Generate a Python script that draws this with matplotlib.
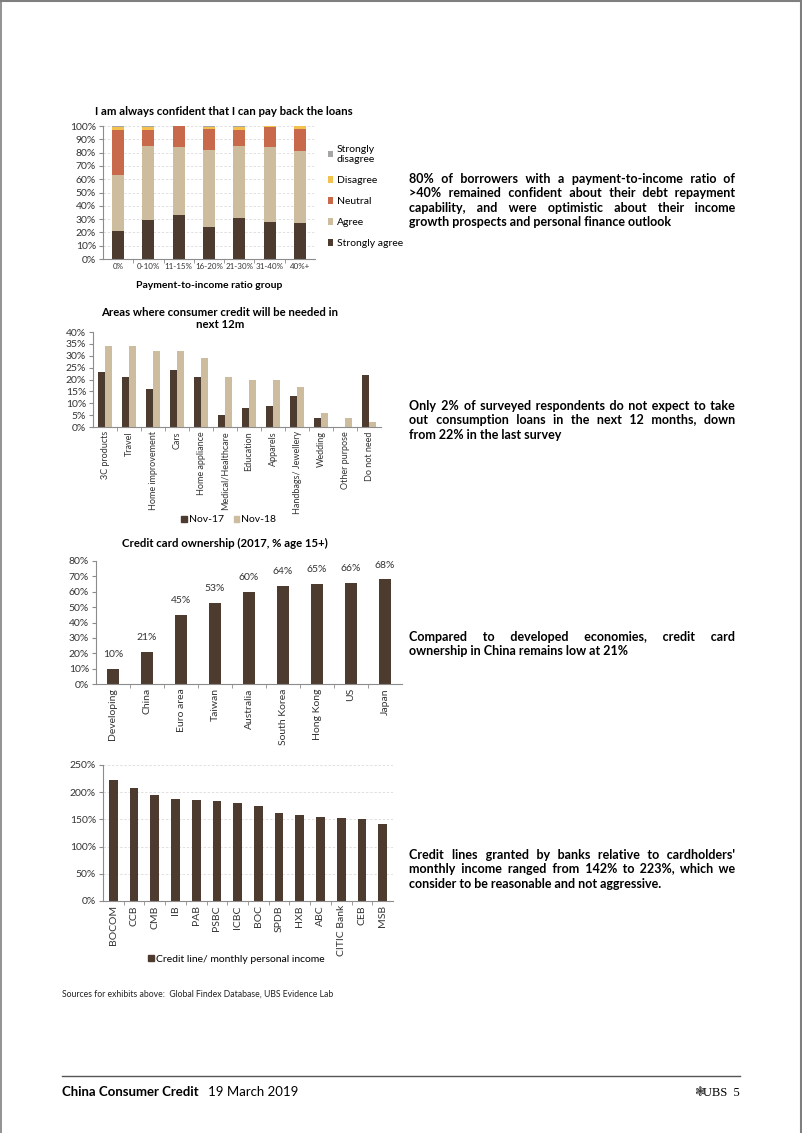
import matplotlib
matplotlib.use('Agg')
import matplotlib.pyplot as plt
from matplotlib.lines import Line2D
from matplotlib.patches import Patch
import numpy as np

plt.rcParams['font.family'] = ['Lato', 'DejaVu Sans']

W, H = 802, 1133

# Chart 1 - confidence by payment-to-income group
groups = ['0%', '0-10%', '11-15%', '16-20%', '21-30%', '31-40%', '40%+']
strongly_agree = [21, 29, 33, 24, 31, 28, 27]
agree = [42, 56, 51, 58, 54, 56, 54]
neutral = [34, 12, 16, 16, 12, 15, 17]
disagree = [2, 2, 0, 1, 2, 1, 2]
strongly_disagree = [1, 1, 0, 1, 1, 0, 0]

# Chart 2 - areas where credit will be needed
areas = ['3C products', 'Travel', 'Home improvement', 'Cars', 'Home appliance',
         'Medical/Healthcare', 'Education', 'Apparels', 'Handbags/ Jewellery',
         'Wedding', 'Other purpose', 'Do not need']
nov17 = [23, 21, 16, 24, 21, 5, 8, 9, 13, 4, 0, 22]
nov18 = [34, 34, 32, 32, 29, 21, 20, 20, 17, 6, 4, 2]

# Chart 3 - credit card ownership
countries = ['Developing', 'China', 'Euro area', 'Taiwan', 'Australia',
             'South Korea', 'Hong Kong', 'US', 'Japan']
ownership = [10, 21, 45, 53, 60, 64, 65, 66, 68]

# Chart 4 - credit line / monthly income
banks = ['BOCOM', 'CCB', 'CMB', 'IB', 'PAB', 'PSBC', 'ICBC', 'BOC', 'SPDB',
         'HXB', 'ABC', 'CITIC Bank', 'CEB', 'MSB']
credit_line = [223, 208, 195, 188, 186, 184, 181, 175, 161, 158, 155, 153, 150, 142]

DARK = '#4E3B2F'
TAN = '#CDBD9E'
NEUTRAL = '#C8694B'
YELLOW = '#F2C14E'
GREY = '#A6A6A6'
TXT = '#333333'
SPINE = '#8c8c8c'

fig = plt.figure(figsize=(W / 100, H / 100), dpi=100)
renderer = fig.canvas.get_renderer()


def box(l, r, b, t):
    return [l / W, 1 - b / H, (r - l) / W, (b - t) / H]


def style(ax, n, grid=False):
    for s in ['top', 'right']:
        ax.spines[s].set_visible(False)
    for s in ['left', 'bottom']:
        ax.spines[s].set_color(SPINE)
        ax.spines[s].set_linewidth(0.8)
    ax.set_xlim(-0.5, n - 0.5)
    ax.set_xticks(np.arange(n - 1) + 0.5, minor=True)
    ax.tick_params(axis='x', which='minor', length=3, color=SPINE)
    ax.tick_params(axis='x', which='major', length=0, colors=TXT, pad=3)
    ax.tick_params(axis='y', length=3, color=SPINE, colors=TXT, labelsize=7.5, pad=2)
    if grid:
        ax.yaxis.grid(True, color='#dcdcdc', linestyle=(0, (3, 2)), linewidth=0.6)
        ax.set_axisbelow(True)


# ---- Chart 1
ax1 = fig.add_axes(box(103, 315, 259, 126))
x = np.arange(len(groups))
bottom = np.zeros(len(groups))
series = [(strongly_agree, DARK, 'Strongly agree'), (agree, TAN, 'Agree'),
          (neutral, NEUTRAL, 'Neutral'), (disagree, YELLOW, 'Disagree'),
          (strongly_disagree, GREY, 'Strongly\ndisagree')]
for vals, c, lab in series:
    ax1.bar(x, vals, 0.4, bottom=bottom, color=c, label=lab)
    bottom += np.array(vals)
ax1.set_ylim(0, 100)
ax1.set_yticks(np.arange(0, 101, 10))
ax1.set_yticklabels(['%d%%' % v for v in range(0, 101, 10)])
style(ax1, len(groups), grid=True)
ax1.set_xticks(x)
ax1.set_xticklabels(groups, fontsize=5.8)
ax1.set_xlabel('Payment-to-income ratio group', fontsize=7.5, fontweight='bold', labelpad=8)
ax1.set_title('I am always confident that I can pay back the loans', fontsize=8.2,
              fontweight='bold', pad=8, x=0.57)
h, l = ax1.get_legend_handles_labels()
ax1.legend(h[::-1], l[::-1], loc='center left', bbox_to_anchor=(1.04, 0.47), frameon=False,
           fontsize=7.5, handlelength=0.55, handleheight=0.55, handletextpad=0.3,
           labelspacing=1.15, borderaxespad=0)

# ---- Chart 2
ax2 = fig.add_axes(box(93, 381, 427, 332))
x = np.arange(len(areas))
ax2.bar(x - 0.14, nov17, 0.28, color=DARK, label='Nov-17')
ax2.bar(x + 0.14, nov18, 0.28, color=TAN, label='Nov-18')
ax2.set_ylim(0, 40)
ax2.set_yticks(np.arange(0, 41, 5))
ax2.set_yticklabels(['%d%%' % v for v in range(0, 41, 5)])
style(ax2, len(areas))
ax2.set_xticks(x)
ax2.set_xticklabels(areas, rotation=90, fontsize=6.5)
ax2.set_title('Areas where consumer credit will be needed in\nnext 12m', fontsize=8.2,
              fontweight='bold', pad=3, x=0.44, linespacing=1.05)
fig.legend(handles=[Patch(color=DARK, label='Nov-17'), Patch(color=TAN, label='Nov-18')],
           loc='center', bbox_to_anchor=(229 / W, 1 - 520 / H), ncol=2, frameon=False,
           fontsize=7.5, handlelength=0.55, handleheight=0.55, handletextpad=0.2,
           columnspacing=0.9)

# ---- Chart 3
ax3 = fig.add_axes(box(96, 402, 684, 561))
x = np.arange(len(countries))
ax3.bar(x, ownership, 0.38, color=DARK)
ax3.set_ylim(0, 80)
ax3.set_yticks(np.arange(0, 81, 10))
ax3.set_yticklabels(['%d%%' % v for v in range(0, 81, 10)])
style(ax3, len(countries))
ax3.set_xticks(x)
ax3.set_xticklabels(countries, rotation=90, fontsize=7.5)
for xi, v in zip(x, ownership):
    ax3.annotate('%d%%' % v, (xi, v), xytext=(0, 7), textcoords='offset points',
                 ha='center', va='bottom', fontsize=7.5, color=TXT)
ax3.set_title('Credit card ownership (2017, % age 15+)', fontsize=8.2, fontweight='bold',
              pad=10, x=0.42)

# ---- Chart 4
ax4 = fig.add_axes(box(103, 393, 901, 765))
x = np.arange(len(banks))
ax4.bar(x, credit_line, 0.42, color=DARK)
ax4.set_ylim(0, 250)
ax4.set_yticks(np.arange(0, 251, 50))
ax4.set_yticklabels(['%d%%' % v for v in range(0, 251, 50)])
style(ax4, len(banks), grid=True)
ax4.set_xticks(x)
ax4.set_xticklabels(banks, rotation=90, fontsize=7.5)
fig.legend(handles=[Patch(color=DARK, label='Credit line/ monthly personal income')],
           loc='center', bbox_to_anchor=(236 / W, 1 - 959 / H), frameon=False,
           fontsize=7.5, handlelength=0.55, handleheight=0.55, handletextpad=0.2)


# ---- Commentary: one text per line, justified by padding gaps with hair spaces
HAIR = '\u200a'


def width_of(t, s):
    t.set_text(s)
    return t.get_window_extent(renderer).width


def para(lines, y0, x0=409, x1=735, lh=14.3, size=9):
    for i, line in enumerate(lines):
        y = 1 - (y0 + 4 + i * lh) / H
        t = fig.text(x0 / W, y, line, fontsize=size, fontweight='bold', va='baseline')
        if i == len(lines) - 1:
            continue
        words = line.split()
        ngap = len(words) - 1
        w0 = width_of(t, line)
        hair = (width_of(t, 'a' + HAIR * 10 + 'a') - width_of(t, 'aa')) / 10
        k = max(0, int(round((x1 - x0 - w0) / hair)))
        best = line
        for _ in range(4):
            gaps = [k // ngap + (1 if j < k % ngap else 0) for j in range(ngap)]
            s = words[0]
            for j, wd in enumerate(words[1:]):
                s += ' ' + HAIR * gaps[j] + wd
            wnow = width_of(t, s)
            best = s
            diff = int(round((x1 - x0 - wnow) / hair))
            if diff == 0:
                break
            k = max(0, k + diff)
        t.set_text(best)


para(['80% of borrowers with a payment-to-income ratio of',
      '>40% remained confident about their debt repayment',
      'capability, and were optimistic about their income',
      'growth prospects and personal finance outlook'], 179)
para(['Only 2% of surveyed respondents do not expect to take',
      'out consumption loans in the next 12 months, down',
      'from 22% in the last survey'], 406)
para(['Compared to developed economies, credit card',
      'ownership in China remains low at 21%'], 637)
para(["Credit lines granted by banks relative to cardholders'",
      'monthly income ranged from 142% to 223%, which we',
      'consider to be reasonable and not aggressive.'], 855)

# ---- Footer
fig.text(62 / W, 1 - 994 / H, 'Sources for exhibits above:  Global Findex Database, UBS Evidence Lab',
         fontsize=6.2, va='center', color='#222222')
fig.add_artist(Line2D([62 / W, 740 / W], [1 - 1076 / H] * 2, color='#555555', lw=1.0))
t = fig.text(62 / W, 1 - 1096 / H, 'China Consumer Credit', fontsize=9.5, fontweight='bold',
             va='baseline')
tw = t.get_window_extent(renderer).width
fig.text((62 + tw + 9) / W, 1 - 1096 / H, '19 March 2019', fontsize=9.5, va='baseline')
fig.text(740 / W, 1 - 1096 / H, 'UBS  5', fontsize=9, va='baseline', ha='right',
         family='Liberation Serif')
fig.text(705 / W, 1 - 1096 / H, '\u2743', fontsize=9, va='baseline', ha='right',
         family='DejaVu Sans', color='#333333')

# page border
fig.add_artist(Line2D([0, 1], [1 - 1 / H] * 2, color='#7f7f7f', lw=1.5))
fig.add_artist(Line2D([1 / W] * 2, [0, 1], color='#7f7f7f', lw=1.2))
fig.add_artist(Line2D([1 - 1.5 / W] * 2, [0, 1], color='#7f7f7f', lw=1.5))

fig.savefig('out.png', dpi=100)
